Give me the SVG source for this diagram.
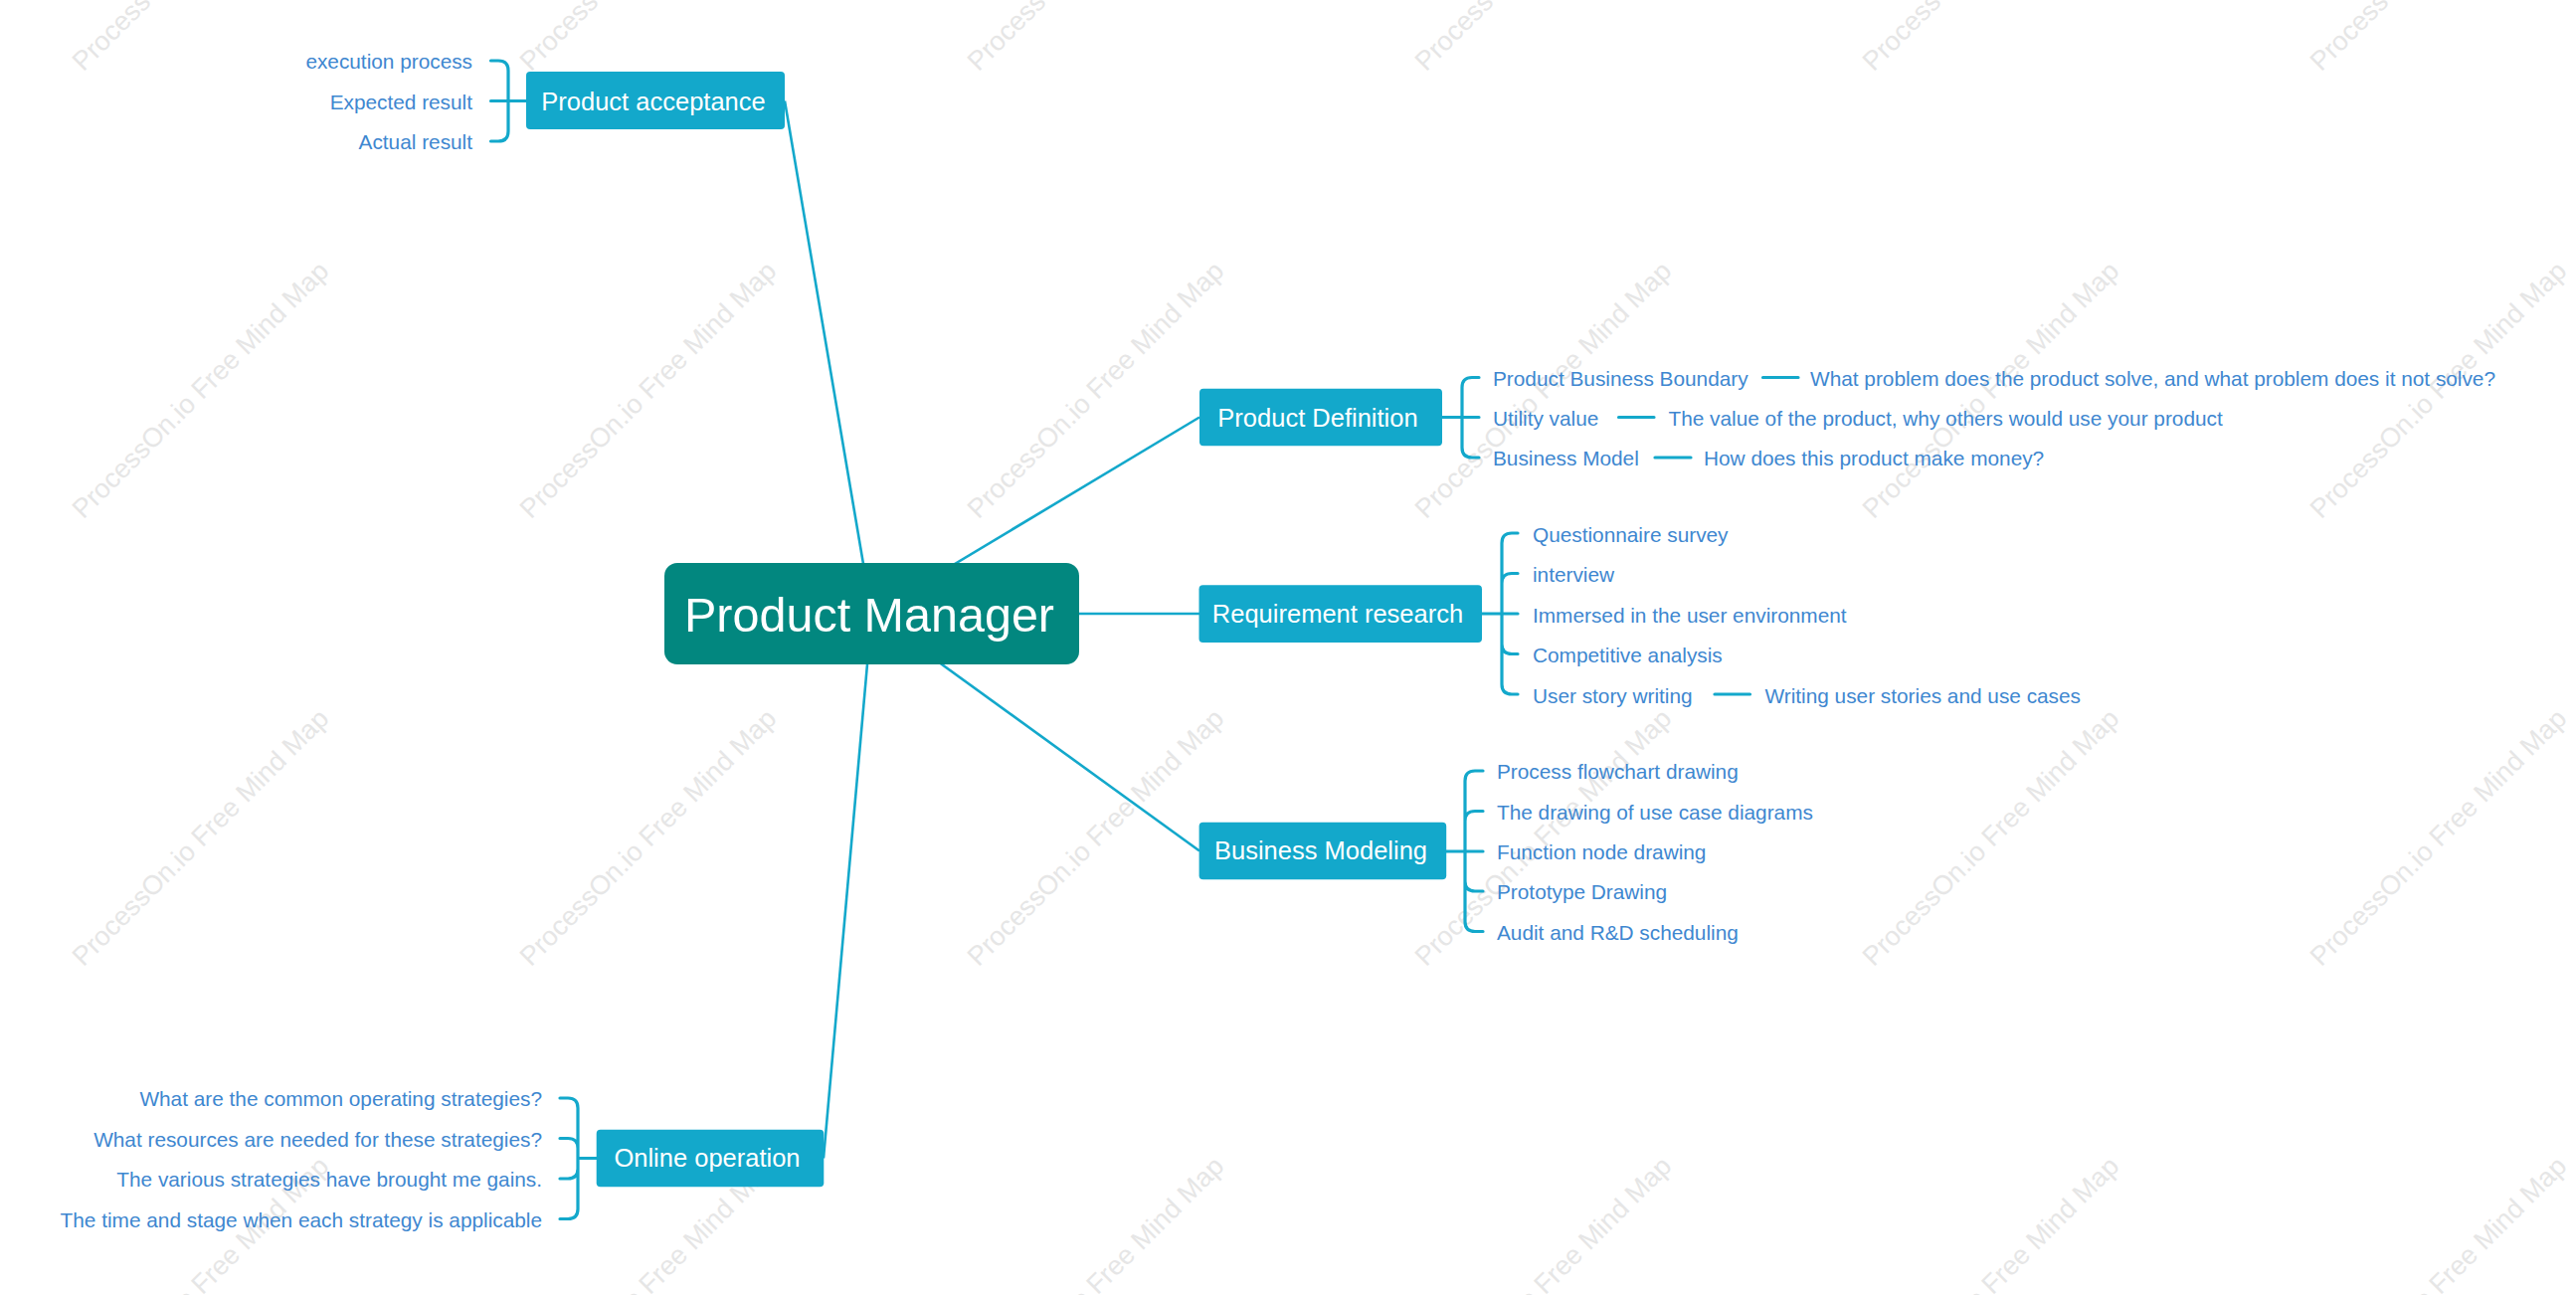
<svg xmlns="http://www.w3.org/2000/svg" width="2590" height="1302" viewBox="0 0 2590 1302">
<style>
.wm{font-family:"Liberation Sans",Arial,sans-serif;font-size:27px;fill:#e6e6e6;text-anchor:middle}
.leaf{font-family:"Liberation Sans",Arial,sans-serif;font-size:20.8px;fill:#3e87d0}
.leafR{font-family:"Liberation Sans",Arial,sans-serif;font-size:20.8px;fill:#3e87d0;text-anchor:end}
.mainbox{fill:#13a8cb}
.maintxt{font-family:"Liberation Sans",Arial,sans-serif;font-size:25.5px;fill:#ffffff;text-anchor:middle}
.br{fill:none;stroke:#13a8cb;stroke-width:3.2;stroke-linecap:round}
.conn{fill:none;stroke:#13a8cb;stroke-width:2.6}
</style>
<rect width="2590" height="1302" fill="#ffffff"/>
<g id="watermarks">
<text class="wm" transform="rotate(-45 201.5 -58)" x="201.5" y="-49">ProcessOn.io Free Mind Map</text>
<text class="wm" transform="rotate(-45 651.5 -58)" x="651.5" y="-49">ProcessOn.io Free Mind Map</text>
<text class="wm" transform="rotate(-45 1101.5 -58)" x="1101.5" y="-49">ProcessOn.io Free Mind Map</text>
<text class="wm" transform="rotate(-45 1551.5 -58)" x="1551.5" y="-49">ProcessOn.io Free Mind Map</text>
<text class="wm" transform="rotate(-45 2001.5 -58)" x="2001.5" y="-49">ProcessOn.io Free Mind Map</text>
<text class="wm" transform="rotate(-45 2451.5 -58)" x="2451.5" y="-49">ProcessOn.io Free Mind Map</text>
<text class="wm" transform="rotate(-45 201.5 392)" x="201.5" y="401">ProcessOn.io Free Mind Map</text>
<text class="wm" transform="rotate(-45 651.5 392)" x="651.5" y="401">ProcessOn.io Free Mind Map</text>
<text class="wm" transform="rotate(-45 1101.5 392)" x="1101.5" y="401">ProcessOn.io Free Mind Map</text>
<text class="wm" transform="rotate(-45 1551.5 392)" x="1551.5" y="401">ProcessOn.io Free Mind Map</text>
<text class="wm" transform="rotate(-45 2001.5 392)" x="2001.5" y="401">ProcessOn.io Free Mind Map</text>
<text class="wm" transform="rotate(-45 2451.5 392)" x="2451.5" y="401">ProcessOn.io Free Mind Map</text>
<text class="wm" transform="rotate(-45 201.5 842)" x="201.5" y="851">ProcessOn.io Free Mind Map</text>
<text class="wm" transform="rotate(-45 651.5 842)" x="651.5" y="851">ProcessOn.io Free Mind Map</text>
<text class="wm" transform="rotate(-45 1101.5 842)" x="1101.5" y="851">ProcessOn.io Free Mind Map</text>
<text class="wm" transform="rotate(-45 1551.5 842)" x="1551.5" y="851">ProcessOn.io Free Mind Map</text>
<text class="wm" transform="rotate(-45 2001.5 842)" x="2001.5" y="851">ProcessOn.io Free Mind Map</text>
<text class="wm" transform="rotate(-45 2451.5 842)" x="2451.5" y="851">ProcessOn.io Free Mind Map</text>
<text class="wm" transform="rotate(-45 201.5 1292)" x="201.5" y="1301">ProcessOn.io Free Mind Map</text>
<text class="wm" transform="rotate(-45 651.5 1292)" x="651.5" y="1301">ProcessOn.io Free Mind Map</text>
<text class="wm" transform="rotate(-45 1101.5 1292)" x="1101.5" y="1301">ProcessOn.io Free Mind Map</text>
<text class="wm" transform="rotate(-45 1551.5 1292)" x="1551.5" y="1301">ProcessOn.io Free Mind Map</text>
<text class="wm" transform="rotate(-45 2001.5 1292)" x="2001.5" y="1301">ProcessOn.io Free Mind Map</text>
<text class="wm" transform="rotate(-45 2451.5 1292)" x="2451.5" y="1301">ProcessOn.io Free Mind Map</text>
</g>
<g id="connectors">
<path class="conn" d="M876.5,617 L789,101.5"/>
<path class="conn" d="M876.5,617 L1206,419.5"/>
<path class="conn" d="M876.5,617 L1206,617"/>
<path class="conn" d="M876.5,617 L1206,855.5"/>
<path class="conn" d="M876.5,617 L828,1164.5"/>
<path class="br" d="M529,101.5 H493.5 M511,101.5 V71 Q511,61 501,61 H493.5 M511,101.5 V132 Q511,142 501,142 H493.5"/>
<path class="br" d="M1450,419.5 H1487 M1470,419.5 V389.5 Q1470,379.5 1480,379.5 H1487 M1470,419.5 V450 Q1470,460 1480,460 H1487"/>
<path class="br" d="M1772.5,379.5 H1808 M1627.5,419.5 H1663 M1664,460 H1700"/>
<path class="br" d="M1490,617 H1526 M1510,617 V546 Q1510,536 1520,536 H1526 M1510,617 V586.5 Q1510,576.5 1520,576.5 H1526 M1510,617 V647.5 Q1510,657.5 1520,657.5 H1526 M1510,617 V688 Q1510,698 1520,698 H1526"/>
<path class="br" d="M1724,698 H1759.5"/>
<path class="br" d="M1454,856 H1491 M1473,856 V785 Q1473,775 1483,775 H1491 M1473,856 V825.5 Q1473,815.5 1483,815.5 H1491 M1473,856 V886 Q1473,896 1483,896 H1491 M1473,856 V926.5 Q1473,936.5 1483,936.5 H1491"/>
<path class="br" d="M600,1164.5 H581 M581,1164.5 V1114 Q581,1104 571,1104 H563 M581,1164.5 V1154.5 Q581,1144.5 571,1144.5 H563 M581,1164.5 V1175 Q581,1185 571,1185 H563 M581,1164.5 V1215.5 Q581,1225.5 571,1225.5 H563"/>
</g>
<g id="node-central">
<rect x="668" y="566" width="417" height="102" rx="13" fill="#02877f"/>
<text x="874" y="635" font-family="'Liberation Sans',Arial,sans-serif" font-size="48.5" fill="#ffffff" text-anchor="middle">Product Manager</text>
</g>
<g id="node-product-acceptance">
<rect class="mainbox" x="529" y="72" width="260" height="58" rx="4"/>
<text class="maintxt" x="657" y="110.5">Product acceptance</text>
</g>
<g id="leaves-product-acceptance">
<text class="leafR" x="475" y="69">execution process</text>
<text class="leafR" x="475" y="109.5">Expected result</text>
<text class="leafR" x="475" y="150">Actual result</text>
</g>
<g id="node-product-definition">
<rect class="mainbox" x="1206" y="390.7" width="244" height="57.6" rx="4"/>
<text class="maintxt" x="1325" y="428.5">Product Definition</text>
</g>
<g id="leaves-product-definition">
<text class="leaf" x="1501" y="387.5">Product Business Boundary</text>
<text class="leaf" x="1820" y="387.5">What problem does the product solve, and what problem does it not solve?</text>
<text class="leaf" x="1501" y="427.5">Utility value</text>
<text class="leaf" x="1677.5" y="427.5">The value of the product, why others would use your product</text>
<text class="leaf" x="1501" y="468">Business Model</text>
<text class="leaf" x="1713" y="468">How does this product make money?</text>
</g>
<g id="node-requirement-research">
<rect class="mainbox" x="1205.5" y="588.3" width="284.5" height="57.6" rx="4"/>
<text class="maintxt" x="1345" y="626">Requirement research</text>
</g>
<g id="leaves-requirement-research">
<text class="leaf" x="1541" y="544.5">Questionnaire survey</text>
<text class="leaf" x="1541" y="585">interview</text>
<text class="leaf" x="1541" y="625.5">Immersed in the user environment</text>
<text class="leaf" x="1541" y="666">Competitive analysis</text>
<text class="leaf" x="1541" y="706.5">User story writing</text>
<text class="leaf" x="1774.5" y="706.5">Writing user stories and use cases</text>
</g>
<g id="node-business-modeling">
<rect class="mainbox" x="1205.6" y="826.7" width="248.6" height="57.6" rx="4"/>
<text class="maintxt" x="1328" y="864">Business Modeling</text>
</g>
<g id="leaves-business-modeling">
<text class="leaf" x="1505" y="783">Process flowchart drawing</text>
<text class="leaf" x="1505" y="823.5">The drawing of use case diagrams</text>
<text class="leaf" x="1505" y="864">Function node drawing</text>
<text class="leaf" x="1505" y="904">Prototype Drawing</text>
<text class="leaf" x="1505" y="944.5">Audit and R&amp;D scheduling</text>
</g>
<g id="node-online-operation">
<rect class="mainbox" x="599.7" y="1135.7" width="228.6" height="57.6" rx="4"/>
<text class="maintxt" x="711" y="1173">Online operation</text>
</g>
<g id="leaves-online-operation">
<text class="leafR" x="545" y="1112">What are the common operating strategies?</text>
<text class="leafR" x="545" y="1152.5">What resources are needed for these strategies?</text>
<text class="leafR" x="545" y="1193">The various strategies have brought me gains.</text>
<text class="leafR" x="545" y="1233.5">The time and stage when each strategy is applicable</text>
</g>
</svg>
